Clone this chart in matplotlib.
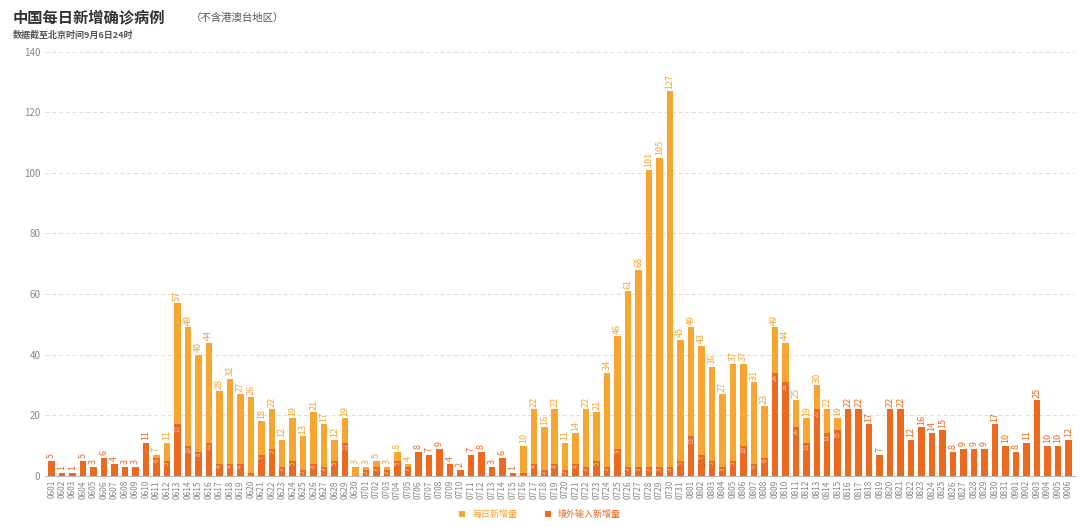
import matplotlib.pyplot as plt
import numpy as np
import pandas as pd

plt.rcParams['font.family'] = ['Noto Sans CJK SC', 'DejaVu Sans']

dates = pd.date_range("2020-06-01", "2020-09-06").strftime("%m%d").tolist()

total = [5, 1, 1, 5, 3, 6, 4, 3, 3, 11, 7, 11, 57, 49, 40, 44, 28, 32, 27, 26,
         18, 22, 12, 19, 13, 21, 17, 12, 19, 3,
         3, 5, 3, 8, 4, 8, 7, 9, 4, 2, 7, 8, 3, 6, 1, 10, 22, 16, 22, 11,
         14, 22, 21, 34, 46, 61, 68, 101, 105, 127, 45,
         49, 43, 36, 27, 37, 37, 31, 23, 49, 44, 25, 19, 30, 22, 19, 22, 22, 17, 7,
         22, 22, 12, 16, 14, 15, 8, 9, 9, 9, 17, 10,
         8, 11, 25, 10, 10, 12]
imported = [5, 1, 1, 5, 3, 6, 4, 3, 3, 11, 6, 5, 17, 10, 8, 11, 4, 4, 4, 1,
            7, 9, 3, 5, 2, 4, 3, 5, 11, 0,
            2, 3, 2, 5, 3, 8, 7, 9, 4, 2, 7, 8, 3, 6, 1, 1, 4, 2, 4, 2,
            4, 3, 5, 3, 9, 3, 3, 3, 3, 3, 5,
            13, 7, 5, 3, 5, 10, 4, 6, 34, 31, 16, 11, 22, 14, 15, 22, 22, 17, 7,
            22, 22, 12, 16, 14, 15, 8, 9, 9, 9, 17, 10,
            8, 11, 25, 10, 10, 12]

LIGHT = "#f6a631"
DARK = "#ec6a20"

fig = plt.figure(figsize=(10.8, 5.27), dpi=100)
ax = fig.add_axes([0.042, 0.097, 0.953, 0.805])
x = np.arange(len(dates))
w = 0.62
ax.bar(x, total, w, color=LIGHT, zorder=2, label="每日新增量")
ax.bar(x, imported, w, color=DARK, zorder=3, label="境外输入新增量")

for i, (t, m) in enumerate(zip(total, imported)):
    col = DARK if t == m else LIGHT
    ax.text(i, t + 0.8, str(t), rotation=90, ha="center", va="bottom",
            fontsize=6.5, color=col)
    if 0 < m < t:
        ax.text(i, m - 0.3, str(m), rotation=90, ha="center", va="top",
                fontsize=4.5, color="#f8c8a8", zorder=4)

ax.set_ylim(0, 140)
ax.set_yticks(range(0, 141, 20))
ax.set_xlim(-0.6, len(dates) - 0.4)
ax.set_xticks(x)
ax.set_xticklabels(dates, rotation=90, fontsize=6, color="#888888")
ax.tick_params(axis="y", labelsize=7, colors="#888888", length=0)
ax.tick_params(axis="x", length=0, pad=3)
ax.grid(axis="y", color="#dddddd", linestyle=(0, (4, 3)), lw=0.7, zorder=0)
for s in ["top", "right", "left"]:
    ax.spines[s].set_visible(False)
ax.spines["bottom"].set_color("#bbbbbb")

fig.text(0.012, 0.958, "中国每日新增确诊病例", fontsize=11, fontweight="bold",
         color="#333333")
fig.text(0.177, 0.960, "（不含港澳台地区）", fontsize=7.5, color="#555555")
fig.text(0.012, 0.928, "数据截至北京时间9月6日24时", fontsize=6.5,
         fontweight="bold", color="#555555")

leg = fig.legend(loc="lower center", bbox_to_anchor=(0.5, 0.0), ncol=2,
                 frameon=False, fontsize=6.5, handlelength=0.7, handleheight=0.7,
                 columnspacing=3)
for txt, c in zip(leg.get_texts(), [LIGHT, DARK]):
    txt.set_color(c)

fig.savefig("out.png", dpi=100)
